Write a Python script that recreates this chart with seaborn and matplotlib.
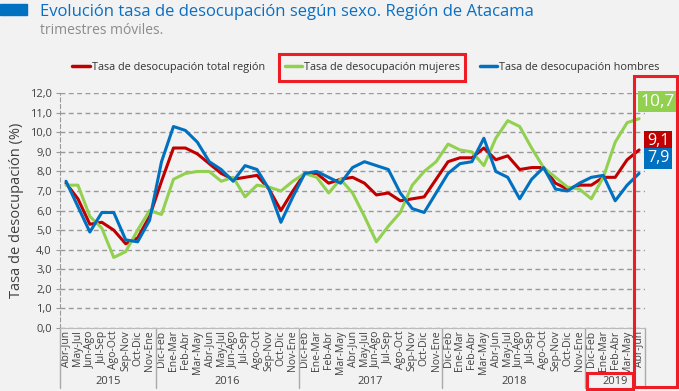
import numpy as np
import pandas as pd
import matplotlib.pyplot as plt
import matplotlib.transforms as mtransforms
from matplotlib.patches import Rectangle
import seaborn as sns

# moving quarters (trimestres moviles), Abr-Jun 2015 .. Abr-Jun 2019
periods_2015 = ["Abr-Jun", "May-Jul", "Jun-Ago", "Jul-Sep", "Ago-Oct", "Sep-Nov", "Oct-Dic", "Nov-Ene"]
periods_full = ["Dic-Feb", "Ene-Mar", "Feb-Abr", "Mar-May", "Abr-Jun", "May-Jul",
                "Jun-Ago", "Jul-Sep", "Ago-Oct", "Sep-Nov", "Oct-Dic", "Nov-Ene"]
periods_2019 = ["Dic-Feb", "Ene-Mar", "Feb-Abr", "Mar-May", "Abr-Jun"]
tick_labels = periods_2015 + periods_full * 3 + periods_2019

years = ["2015", "2016", "2017", "2018", "2019"]
year_counts = [8, 12, 12, 12, 5]

total = [7.4, 6.6, 5.3, 5.4, 5.0, 4.3, 4.6, 5.7,
         7.5, 9.2, 9.2, 8.9, 8.4, 7.9, 7.6, 7.7, 7.8, 7.1, 6.0, 7.0,
         7.9, 7.9, 7.4, 7.6, 7.7, 7.4, 6.8, 6.9, 6.5, 6.6, 6.7, 7.6,
         8.5, 8.7, 8.7, 9.2, 8.6, 8.8, 8.1, 8.2, 8.2, 7.4, 7.1, 7.3,
         7.3, 7.7, 7.7, 8.6, 9.1]
mujeres = [7.3, 7.3, 5.7, 5.1, 3.6, 3.9, 5.0, 6.0,
           5.8, 7.6, 7.9, 8.0, 8.0, 7.5, 7.7, 6.7, 7.3, 7.2, 7.0, 7.5,
           7.9, 7.7, 6.9, 7.6, 6.9, 5.7, 4.4, 5.2, 5.9, 7.3, 8.0, 8.5,
           9.4, 9.1, 9.0, 8.3, 9.7, 10.6, 10.3, 9.2, 8.2, 7.7, 7.2, 7.1,
           6.6, 7.7, 9.5, 10.5, 10.7]
hombres = [7.5, 6.2, 4.9, 5.9, 5.9, 4.5, 4.4, 5.5,
           8.5, 10.3, 10.1, 9.5, 8.5, 8.1, 7.5, 8.3, 8.1, 7.1, 5.4, 6.7,
           7.9, 8.0, 7.7, 7.4, 8.2, 8.5, 8.3, 8.1, 6.9, 6.1, 5.9, 6.9,
           7.9, 8.4, 8.5, 9.7, 8.0, 7.7, 6.6, 7.6, 8.2, 7.1, 7.0, 7.4,
           7.7, 7.8, 6.5, 7.3, 7.9]

series_names = ["Tasa de desocupación total región",
                "Tasa de desocupación mujeres",
                "Tasa de desocupación hombres"]
series_colors = ["#c00000", "#92d050", "#0070c0"]

idx = np.arange(len(tick_labels))
df = pd.concat([
    pd.DataFrame({"idx": idx, "valor": vals, "serie": name})
    for name, vals in zip(series_names, [total, mujeres, hombres])
])

BG = "#f2f2f2"
sns.set_style("white", {"axes.facecolor": BG, "figure.facecolor": BG})
plt.rcParams["font.family"] = ["Open Sans", "DejaVu Sans"]

fig = plt.figure(figsize=(6.79, 3.91), dpi=100)
ax = fig.add_axes([0.0884, 0.1616, 0.8616, 0.5998])

sns.lineplot(data=df, x="idx", y="valor", hue="serie", hue_order=series_names,
             palette=series_colors, linewidth=2.2, ax=ax)

ax.set_xlim(-0.5, len(tick_labels) - 0.5)
ax.set_ylim(0, 12)
ax.set_yticks(np.arange(0, 12.1, 1))
ax.set_yticklabels([f"{v:.1f}".replace(".", ",") for v in np.arange(0, 12.1, 1)],
                   fontsize=8, color="#404040")
ax.set_xticks(idx)
ax.set_xticklabels(tick_labels, rotation=90, fontsize=7.5, color="#404040")
ax.tick_params(axis="x", length=0, pad=2)
ax.tick_params(axis="y", length=3, color="#999999", pad=3, left=True)
ax.set_xlabel("")
ax.set_ylabel("Tasa de desocupación (%)", fontsize=10.5, color="#404040", labelpad=4)

ax.set_axisbelow(True)
ax.yaxis.grid(True, linestyle=(0, (3.5, 2.5)), color="#999999", linewidth=1)
for side in ["top", "right"]:
    ax.spines[side].set_visible(False)
ax.spines["left"].set_linestyle((0, (3.5, 2.5)))
ax.spines["left"].set_color("#999999")
ax.spines["bottom"].set_color("#bbbbbb")

# year groups under the month labels
trans = mtransforms.blended_transform_factory(ax.transData, ax.transAxes)
edges = np.concatenate([[0], np.cumsum(year_counts)]) - 0.5
for e in edges:
    ax.plot([e, e], [0, -0.255], transform=trans, color="#aaaaaa", lw=1, clip_on=False)
for year, a, b in zip(years, edges[:-1], edges[1:]):
    ax.text((a + b) / 2, -0.228, year, transform=trans, ha="center", va="center",
            fontsize=8, color="#404040")

# end-of-series value tags
tag_offsets = [(19, 9), (19, 17), (19, 15)]
tag_sizes = [11.5, 12.5, 11.5]
for vals, color, off, fs in zip([total, mujeres, hombres], series_colors, tag_offsets, tag_sizes):
    ax.annotate(f"{vals[-1]:.1f}".replace(".", ","), xy=(idx[-1], vals[-1]),
                xytext=off, textcoords="offset pixels", ha="center", va="center",
                fontsize=fs, color="white", annotation_clip=False,
                bbox=dict(boxstyle="square,pad=0.15", fc=color, ec="none"))

sns.move_legend(ax, "center", bbox_to_anchor=(0.523, 1.112), ncol=3, frameon=False,
                title=None, fontsize=7.8, handlelength=1.6, handletextpad=0.2,
                columnspacing=1.8)
leg = ax.get_legend()
for line in leg.get_lines():
    line.set_linewidth(2.5)
for txt in leg.get_texts():
    txt.set_color("#333333")

# title block
fig.patches.append(Rectangle((0, 0.9616), 0.0398, 0.028, transform=fig.transFigure,
                             color="#0070c0", zorder=3))
fig.text(0.059, 0.969, "Evolución tasa de desocupación según sexo. Región de Atacama",
         fontsize=12, color="#0a6fc2", va="center")
fig.text(0.059, 0.922, "trimestres móviles.", fontsize=10, color="#8c8c8c", va="center")

# red highlight boxes
RED = "#ee1c25"
fig.canvas.draw()
inv = fig.transFigure.inverted()
bb_line = leg.get_lines()[1].get_window_extent()
bb_txt = leg.get_texts()[1].get_window_extent()
x0, y0 = inv.transform((bb_line.x0 - 6, min(bb_txt.y0, bb_line.y0) - 8))
x1, y1 = inv.transform((bb_txt.x1 + 5, max(bb_txt.y1, bb_line.y1) + 8))
fig.patches.append(Rectangle((x0, y0), x1 - x0, y1 - y0, transform=fig.transFigure,
                             fill=False, ec=RED, lw=2.2, zorder=5))
fig.patches.append(Rectangle((0.933, 0.0102), 0.0636, 0.7954, transform=fig.transFigure,
                             fill=False, ec=RED, lw=2.2, zorder=5))
fig.patches.append(Rectangle((0.8645, 0.004), 0.0677, 0.042, transform=fig.transFigure,
                             fill=False, ec=RED, lw=2.2, zorder=5))

plt.savefig("out.png", dpi=100, facecolor=BG)
